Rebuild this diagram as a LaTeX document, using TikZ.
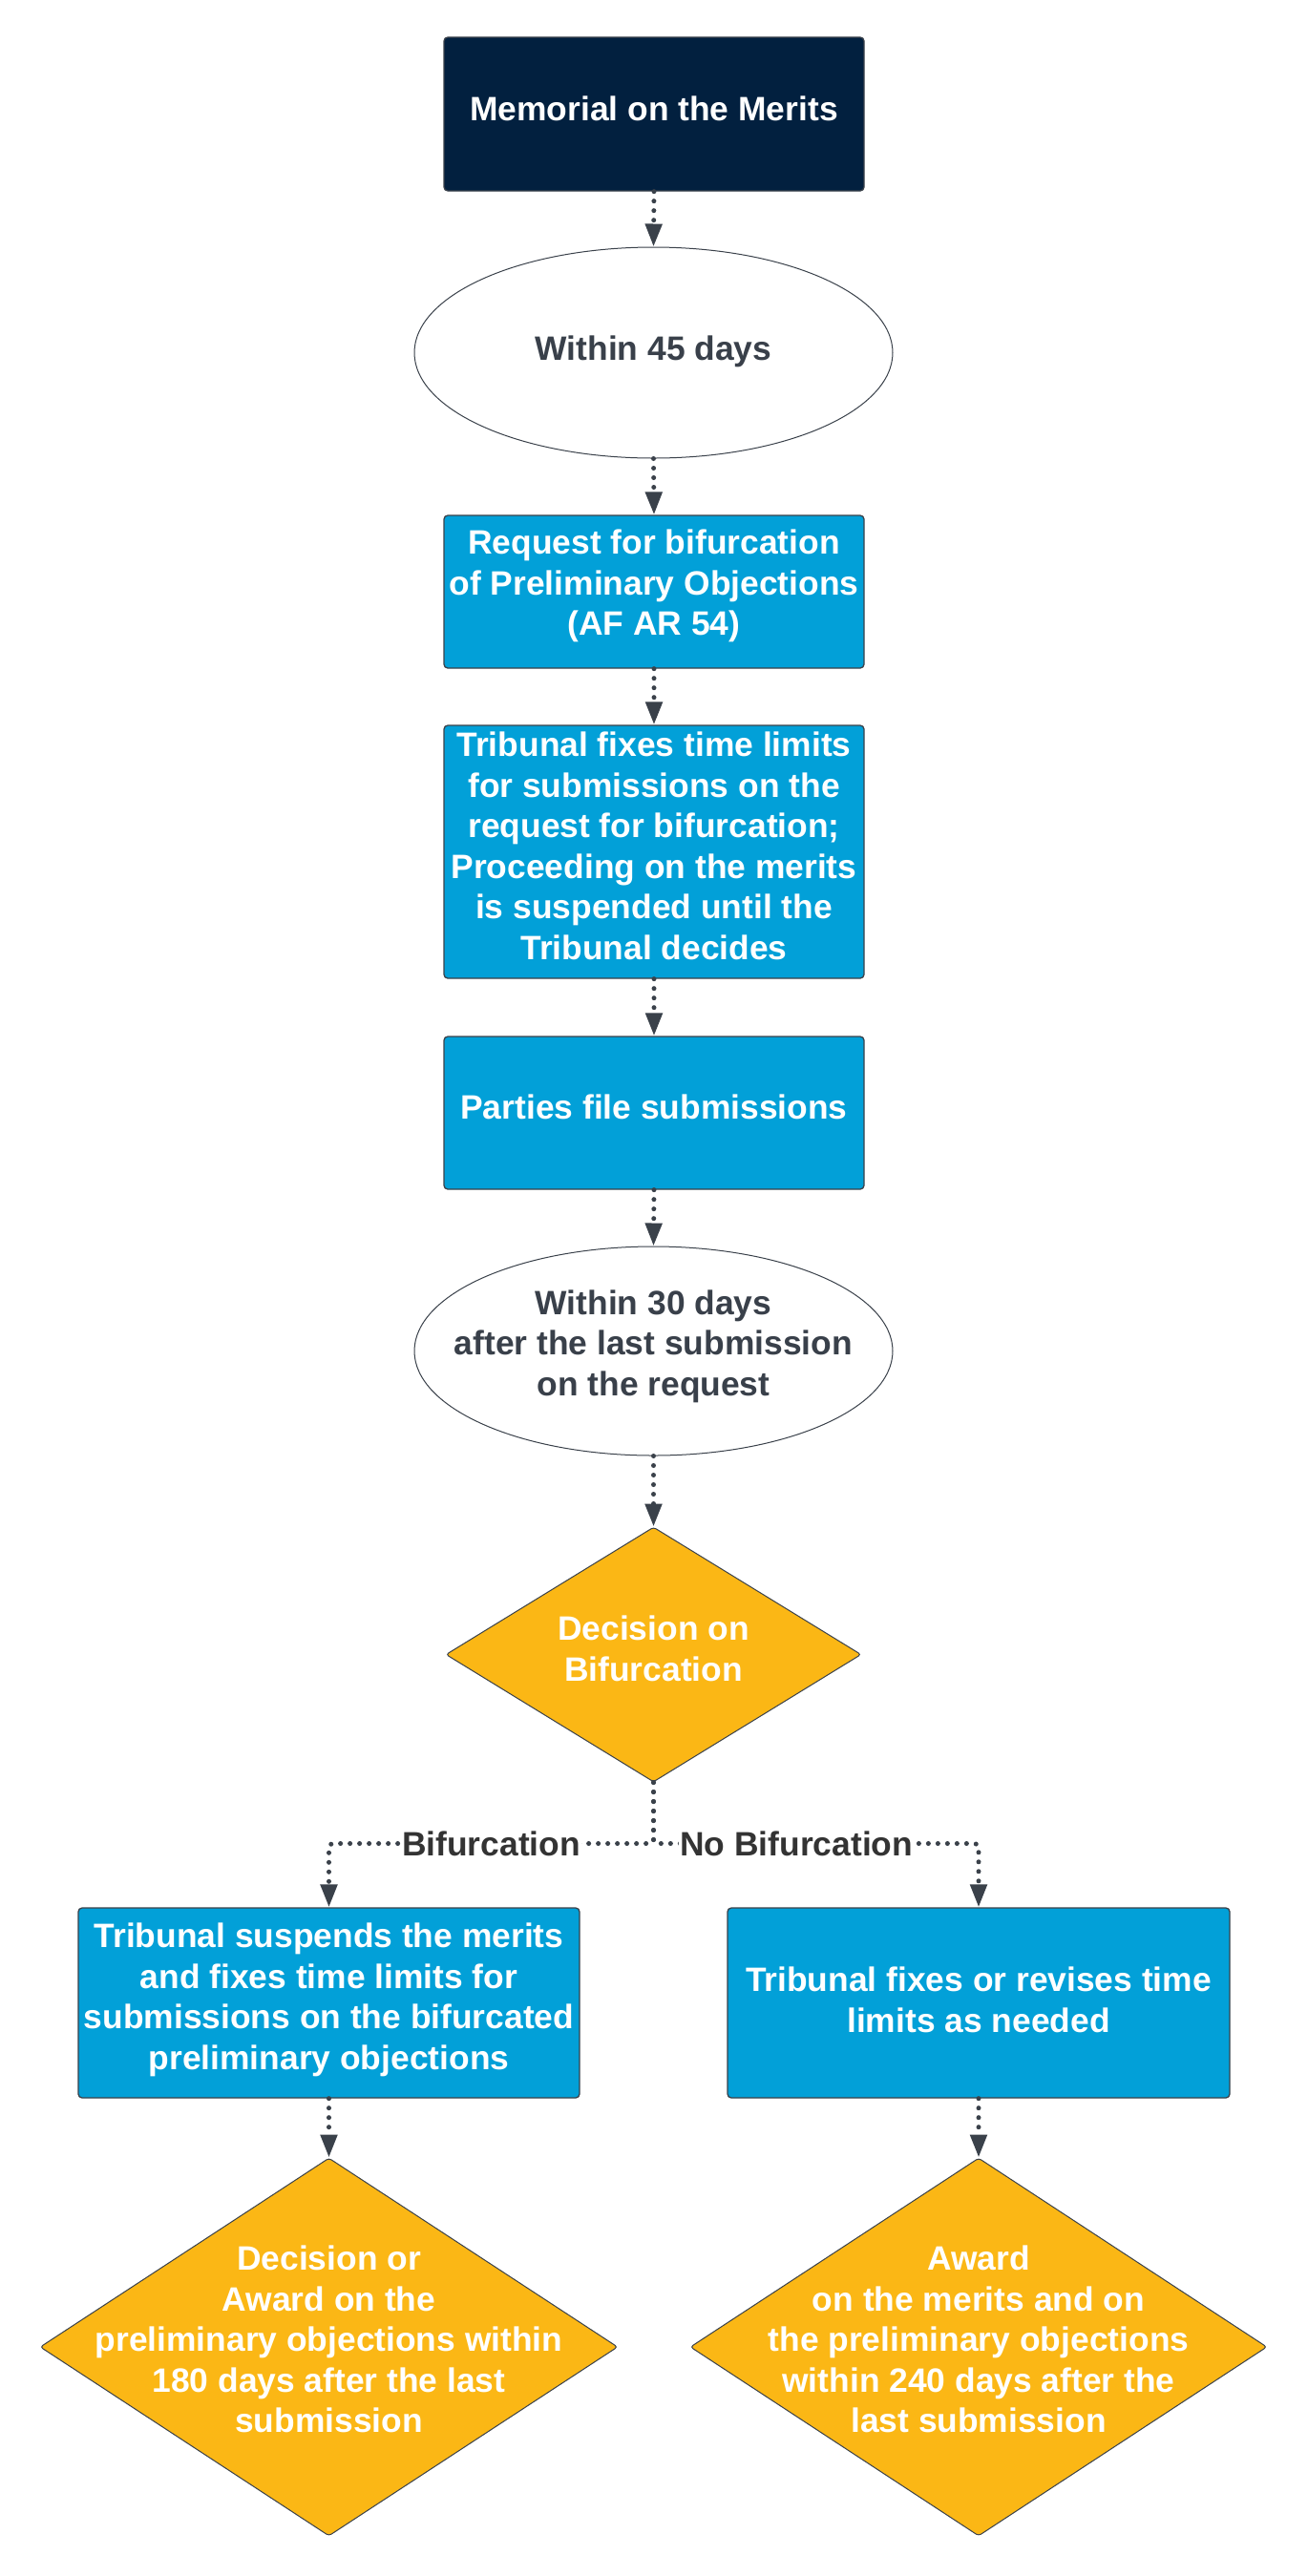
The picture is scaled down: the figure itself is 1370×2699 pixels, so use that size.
\documentclass[tikz,border=0pt]{standalone}
\usepackage{fontspec}
\setmainfont{Liberation Sans}
\usetikzlibrary{shapes.geometric,arrows.meta}
\definecolor{navy}{HTML}{02203F}
\definecolor{sky}{HTML}{02A0D8}
\definecolor{amber}{HTML}{FBB715}
\definecolor{edge}{HTML}{3A414A}
\definecolor{darktext}{HTML}{39404A}
\definecolor{labelc}{HTML}{333333}
\begin{document}
\begin{tikzpicture}[x=1pt,y=-1pt,
  bigfont/.style={font=\bfseries\fontsize{35.4}{42.5}\selectfont},
  boxshape/.style={rectangle, rounded corners=4pt, draw=edge, line width=1.3pt, fill=sky, minimum width=440pt, minimum height=160pt, inner sep=0pt},
  ovalshape/.style={ellipse, draw=edge, line width=1pt, fill=white, minimum width=501pt, minimum height=220pt, inner sep=0pt},
  dmdshape/.style={diamond, draw=edge, line width=1pt, fill=amber, rounded corners=3pt, inner sep=0pt},
  wtxt/.style={bigfont, text=white, align=center, inner sep=0pt, yshift=6pt},
  dtxt/.style={bigfont, text=darktext, align=center, inner sep=0pt, yshift=5pt},
  lbl/.style={bigfont, text=labelc, fill=white, inner sep=1.5pt},
  conn/.style={draw=edge, line width=5pt, dash pattern=on 0pt off 10pt, line cap=round, rounded corners=4pt, -{Triangle[length=24pt,width=17pt]}}
]
\useasboundingbox (0,0) rectangle (1370,2699);
\fill[white] (0,0) rectangle (1370,2699);

% shapes
\node[boxshape, fill=navy, minimum height=161pt] (top) at (685,119.5) {};
\node[ovalshape, minimum height=221pt] (e1) at (684.5,369.5) {};
\node[boxshape] (b2) at (685,620) {};
\node[boxshape, minimum height=265pt] (b3) at (685,892.5) {};
\node[boxshape] (b4) at (685,1166) {};
\node[ovalshape, minimum height=219pt] (e2) at (684.5,1415.5) {};
\node[dmdshape, minimum width=435pt, minimum height=267pt] (d1) at (684.5,1733.5) {};
\node[boxshape, minimum width=525pt, minimum height=199pt] (lbox) at (344.5,2098.5) {};
\node[boxshape, minimum width=526pt, minimum height=199pt] (rbox) at (1025,2098.5) {};
\node[dmdshape, minimum width=605pt, minimum height=396pt] (ld) at (344.5,2459) {};
\node[dmdshape, minimum width=604pt, minimum height=396pt] (rd) at (1025,2459) {};

% texts
\node[wtxt] (toptx) at (top.center) {Memorial on the Merits};
\node[dtxt, yshift=-4pt] (e1tx) at (e1.center) {Within 45 days};
\node[wtxt] (b2tx) at (b2.center) {Request for bifurcation\\of Preliminary Objections\\(AF AR 54)};
\node[wtxt] (b3tx) at (b3.center) {Tribunal fixes time limits\\for submissions on the\\request for bifurcation;\\Proceeding on the merits\\is suspended until the\\Tribunal decides};
\node[wtxt] (b4tx) at (b4.center) {Parties file submissions};
\node[dtxt] (e2tx) at (e2.center) {Within 30 days\\after the last submission\\on the request};
\node[wtxt] (d1tx) at (d1.center) {Decision on\\Bifurcation};
\node[wtxt, yshift=-3pt] (lboxtx) at (lbox.center) {Tribunal suspends the merits\\and fixes time limits for\\submissions on the bifurcated\\preliminary objections};
\node[wtxt, yshift=-3pt] (rboxtx) at (rbox.center) {Tribunal fixes or revises time\\limits as needed};
\node[wtxt, yshift=2pt] (ldtx) at (ld.center) {Decision or\\Award on the\\preliminary objections within\\180 days after the last\\submission};
\node[wtxt, yshift=2pt] (rdtx) at (rd.center) {Award\\on the merits and on\\the preliminary objections\\within 240 days after the\\last submission};

% connectors
\draw[conn] (top.south) -- (e1.north);
\draw[conn] (e1.south) -- (b2.north);
\draw[conn] (b2.south) -- (b3.north);
\draw[conn] (b3.south) -- (b4.north);
\draw[conn] (b4.south) -- (e2.north);
\draw[conn] (e2.south) -- (d1.north);
\draw[conn] (d1.south) -- ++(0,64) -| node[lbl, pos=0.25] (lblB) {Bifurcation} (lbox.north);
\draw[conn] (d1.south) -- ++(0,64) -| node[lbl, pos=0.22] (lblNB) {No Bifurcation} (rbox.north);
\draw[conn] (lbox.south) -- (ld.north);
\draw[conn] (rbox.south) -- (rd.north);
\end{tikzpicture}
\end{document}
